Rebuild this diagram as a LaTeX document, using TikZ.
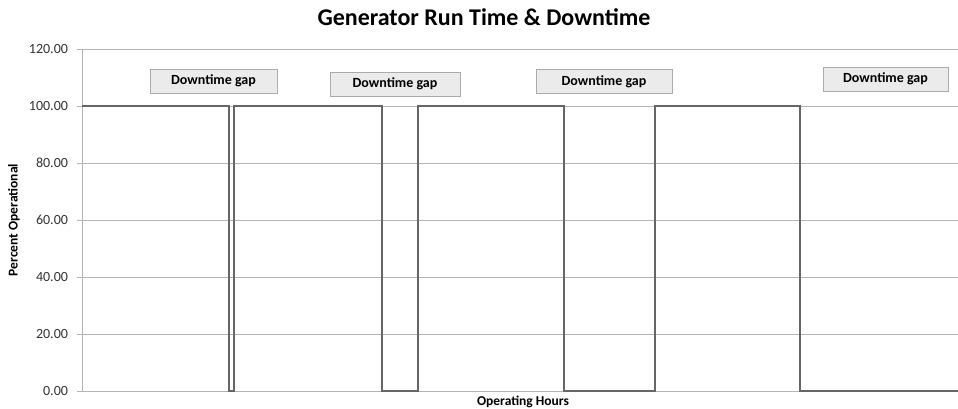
\documentclass[tikz,border=0pt]{standalone}
\usepackage{fontspec}
\setmainfont{Carlito}
\definecolor{gridc}{HTML}{B4B4B4}
\definecolor{linec}{HTML}{666666}
\definecolor{boxfill}{HTML}{EBEBEB}
\definecolor{boxdraw}{HTML}{ABABAB}
\begin{document}
\begin{tikzpicture}[x=1pt,y=-1pt,
  grid/.style={draw=gridc,line width=0.9pt},
  series/.style={draw=linec,line width=2.2pt,line join=miter},
  gapbox/.style={draw=boxdraw,fill=boxfill,line width=0.9pt,minimum height=24pt,inner sep=0pt,font=\bfseries\fontsize{14}{16}\selectfont},
  ticklab/.style={anchor=east,font=\fontsize{14}{16}\selectfont,text=black!80}]
\useasboundingbox (0,0) rectangle (958,409);
\fill[white] (0,0) rectangle (958,409);
% gridlines
\foreach \v/\l in {0/0.00,20/20.00,40/40.00,60/60.00,80/80.00,100/100.00,120/120.00}{
  \draw[grid] (77,{391-2.85*\v}) -- (958,{391-2.85*\v});
  \node[ticklab] at (71.5,{391-2.85*\v}) {\l};
}
\draw[grid] (82,50) -- (82,391);
% series
\draw[series] (82,106) -- (229,106) -- (229,391) -- (234,391) -- (234,106)
  -- (382,106) -- (382,391) -- (418,391) -- (418,106)
  -- (564,106) -- (564,391) -- (655,391) -- (655,106)
  -- (800,106) -- (800,391) -- (958,391);
% boxes
\node[gapbox,minimum width=127pt] (g1) at (213.5,81) {Downtime gap};
\node[gapbox,minimum width=130pt] (g2) at (395,84) {Downtime gap};
\node[gapbox,minimum width=136pt] (g3) at (604,81.5) {Downtime gap};
\node[gapbox,minimum width=125pt] (g4) at (885.5,79) {Downtime gap};
% titles
\node[font=\bfseries\fontsize{24}{28}\selectfont] (title) at (484,17) {Generator Run Time \& Downtime};
\node[font=\bfseries\fontsize{13.5}{15}\selectfont,rotate=90] (ylab) at (14,220) {Percent Operational};
\node[font=\bfseries\fontsize{13.5}{15}\selectfont] (xlab) at (523,402) {Operating Hours};
\end{tikzpicture}
\end{document}
